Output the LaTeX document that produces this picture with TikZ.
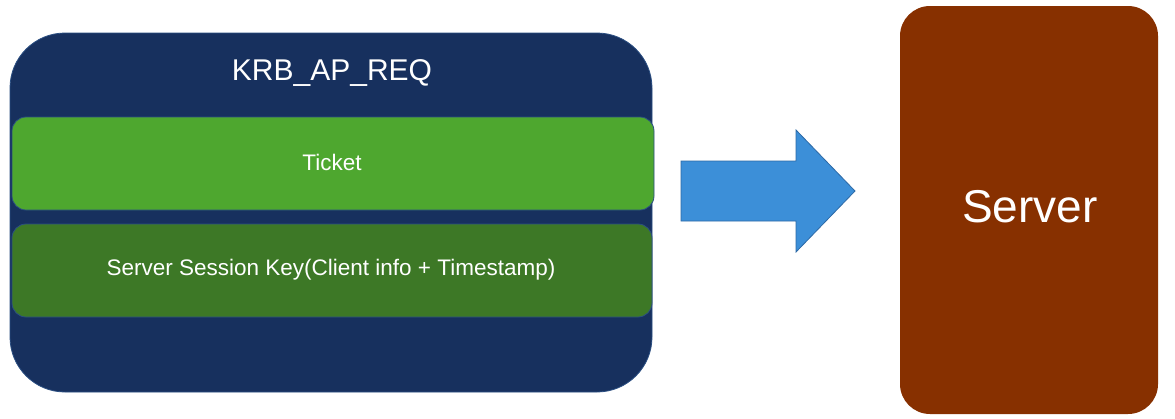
\documentclass[tikz,border=0pt]{standalone}
\usepackage{fontspec}
\setmainfont{Liberation Sans}
\definecolor{navy}{HTML}{17305E}
\definecolor{navyedge}{HTML}{2A4E82}
\definecolor{lgreen}{HTML}{4EA72F}
\definecolor{dgreen}{HTML}{3D7826}
\definecolor{arrowblue}{HTML}{3C8FD8}
\definecolor{arrowedge}{HTML}{2C69A6}
\definecolor{brown}{HTML}{873000}
\begin{document}
\begin{tikzpicture}[x=1pt,y=-1pt,
  outerbox/.style={fill=navy,draw=navyedge,line width=0.8pt,rounded corners=55pt},
  band/.style={draw=navyedge,line width=0.8pt,rounded corners=14pt},
  lbl/.style={text=white,inner sep=0pt,anchor=center}]
\useasboundingbox (0,0) rectangle (1175,418);
\fill[white] (0,0) rectangle (1175,418);
\draw[outerbox] (10,33) rectangle (652,392);
\draw[band,fill=lgreen] (12,117) rectangle (654,210);
\draw[band,fill=dgreen] (12,224) rectangle (652,317);
\node[lbl,font=\fontsize{30}{33}\selectfont] (title) at (332,73) {KRB\_AP\_REQ};
\node[lbl,font=\fontsize{22.5}{25}\selectfont] (ticket) at (332,162) {Ticket};
\node[lbl,font=\fontsize{22.5}{25}\selectfont] (skey) at (331,270) {Server Session Key(Client info + Timestamp)};
\draw[fill=arrowblue,draw=arrowedge,line width=0.8pt]
  (681,161) -- (796,161) -- (796,130) -- (855,191) -- (796,252) -- (796,221) -- (681,221) -- cycle;
\fill[brown,rounded corners=30pt] (900,6) rectangle (1158,414);
\node[lbl,font=\fontsize{46}{50}\selectfont] (server) at (1030,207) {Server};
\end{tikzpicture}
\end{document}
